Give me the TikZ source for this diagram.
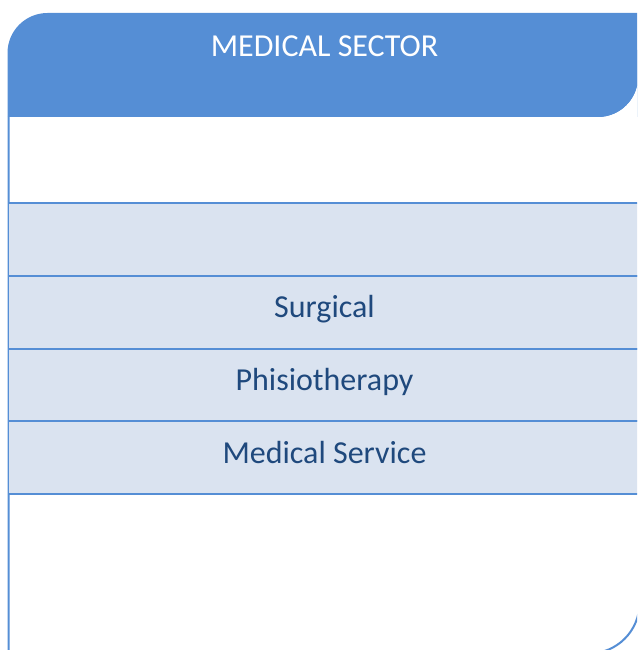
\documentclass[tikz,border=0pt]{standalone}
\usepackage{fontspec}
\setmainfont{Carlito}
\definecolor{hdr}{HTML}{558ED5}
\definecolor{band}{HTML}{DAE3F0}
\definecolor{txt}{HTML}{1F497D}
\tikzset{
  lbl/.style={anchor=base, inner sep=0pt, font=\fontsize{32}{39}\selectfont, text=txt},
  hlbl/.style={lbl, text=white, font=\fontsize{32}{39}\selectfont},
  bandbox/.style={fill=band, draw=hdr, line width=1.5pt},
}
\begin{document}
\begin{tikzpicture}[x=1pt,y=1pt]
\useasboundingbox (0,0) rectangle (637,650);
\clip (0,0) rectangle (637,650);
% body outline
\draw[hdr, line width=2pt, fill=white] (8.5,533) -- (8.5,-3.5) -- (589,-3.5) arc[start angle=-90,end angle=0,radius=50.5] -- (639.5,533);
% bands
\foreach \t/\b in {447/374, 374/301, 301/229, 229/156}
  \draw[bandbox] (8.5,\b) rectangle (660,\t);
% header
\fill[hdr] (7.5,533) -- (7.5,597) arc[start angle=180,end angle=90,radius=40] -- (660,637) -- (660,533) -- cycle;
\fill[white] (598,533) arc[start angle=-90,end angle=0,radius=40] -- (660,573) -- (660,530) -- (598,530) -- cycle;
\fill[hdr] (590,533) -- (598,533) arc[start angle=-90,end angle=0,radius=40] -- (638,600) -- (590,600) -- cycle;
\node[hlbl] (title) at (324.5,593) {MEDICAL SECTOR};
\node[lbl] (surg) at (324.5,332.5) {Surgical};
\node[lbl] (phys) at (324.5,259.5) {Phisiotherapy};
\node[lbl] (serv) at (324.5,186.5) {Medical Service};
\end{tikzpicture}
\end{document}
